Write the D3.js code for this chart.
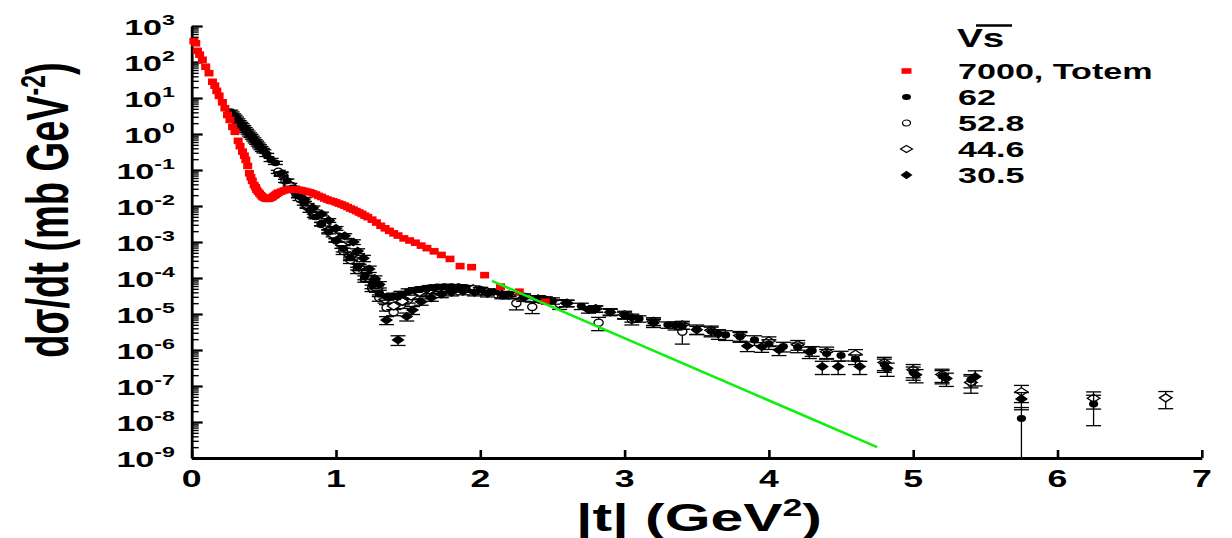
<!DOCTYPE html>
<html><head><meta charset="utf-8">
<script src="https://cdn.jsdelivr.net/npm/d3@7"></script>
<style>
html,body{margin:0;padding:0;background:#fff;}
svg{display:block;font-family:"Liberation Sans",Arial,Helvetica,sans-serif;font-weight:bold;}
</style>
</head><body>
<svg id="chart" width="1232" height="538"></svg>
<script>
// ---------- data ----------
const xTicks = [0, 1, 2, 3, 4, 5, 6, 7];
const yTickExps = [-9, -8, -7, -6, -5, -4, -3, -2, -1, 0, 1, 2, 3];
const legendTitle = "Vs";
const legendLabels = ["7000, Totem", "62", "52.8", "44.6", "30.5"];

// 7000 GeV TOTEM: [|t|, dsigma/dt]
const red7000 = [
  [0.015,380],[0.028,331],[0.04,204],[0.055,160],[0.074,115],[0.097,74.1],[0.12,49.0],[0.144,28.2],[0.16,22.0],
  [0.174,15.8],[0.19,11.5],[0.213,7.59],[0.23,5.2],[0.248,3.39],[0.265,2.45],[0.283,1.58],[0.30,1.15],
  [0.322,0.646],[0.335,0.46],[0.352,0.324],[0.365,0.25],[0.375,0.191],[0.388,0.13],[0.40,0.0813],[0.41,0.063],
  [0.42,0.0501],[0.433,0.0380],[0.443,0.0330],[0.45,0.0282],[0.46,0.0251],[0.47,0.0224],[0.48,0.0200],[0.49,0.0182],
  [0.50,0.0170],[0.51,0.0162],[0.52,0.0158],
  [0.53,0.0158],[0.54,0.0162],[0.55,0.0170],[0.56,0.0178],[0.57,0.0191],[0.58,0.0204],[0.59,0.0219],[0.60,0.0234],
  [0.62,0.0251],[0.64,0.0269],[0.66,0.0282],[0.68,0.0288],[0.70,0.0288],[0.72,0.0288],[0.74,0.0282],[0.76,0.0275],
  [0.78,0.0263],[0.80,0.0251],[0.82,0.0240],[0.84,0.0224],[0.86,0.0209],[0.88,0.0191],[0.90,0.0178],[0.92,0.0162],
  [0.94,0.0151],[0.96,0.0141],[0.98,0.0135],[1.00,0.0126],[1.02,0.0117],[1.04,0.0110],[1.06,0.0102],[1.08,0.00933],
  [1.10,0.00851],[1.12,0.00794],[1.14,0.00724],[1.16,0.00661],[1.18,0.00603],[1.20,0.00537],[1.22,0.00490],
  [1.25,0.00417],[1.28,0.00347],[1.31,0.00282],[1.34,0.00240],[1.37,0.00204],[1.40,0.00174],[1.43,0.00151],
  [1.47,0.00126],[1.51,0.00110],[1.55,0.000955],[1.59,0.000794],[1.63,0.000676],[1.68,0.000550],[1.73,0.000437],
  [1.79,0.000339],[1.86,0.000214],[1.94,0.000200],[2.03,0.000120],[2.14,5.75e-5],[2.27,4.17e-5],[2.45,2.19e-5]
];

// ISR data: [|t|, dsigma/dt, relative error]
const isr62 = [
  [0.27,4.17,0.1],[0.28,3.72,0.1],[0.29,3.31,0.1],[0.30,3.02,0.1],[0.31,2.69,0.1],[0.32,2.40,0.1],[0.33,2.14,0.1],
  [0.34,1.91,0.1],[0.35,1.74,0.1],[0.36,1.55,0.1],[0.37,1.38,0.1],[0.38,1.23,0.1],[0.39,1.10,0.1],[0.40,0.977,0.1],
  [0.41,0.891,0.1],[0.42,0.794,0.1],[0.43,0.708,0.1],[0.44,0.631,0.1],[0.45,0.575,0.1],[0.46,0.513,0.1],
  [0.47,0.457,0.1],[0.48,0.407,0.1],[0.49,0.363,0.1],[0.50,0.331,0.1],[0.52,0.263,0.1],[0.55,0.191,0.1],[0.58,0.158,0.1],
  [0.62,0.0794,0.12],[0.66,0.0501,0.12],[0.70,0.0316,0.12],[0.74,0.0191,0.12],[0.78,0.0120,0.12],[0.82,0.00759,0.12],
  [0.86,0.00501,0.12],[0.90,0.00316,0.12],[0.95,0.00191,0.12],[1.00,0.00112,0.12],
  [1.05,0.000661,0.2],[1.10,0.000380,0.2],[1.15,0.000209,0.2],[1.20,0.000112,0.2],[1.25,6.31e-5,0.2],[1.30,3.80e-5,0.2],
  [1.35,3.02e-5,0.2],[1.40,3.16e-5,0.2],[1.45,3.55e-5,0.2],[1.50,4.17e-5,0.2],
  [1.55,4.68e-5,0.15],[1.60,5.01e-5,0.15],[1.65,5.37e-5,0.15],[1.70,5.62e-5,0.15],[1.75,5.75e-5,0.15],[1.80,5.75e-5,0.15],
  [1.85,5.62e-5,0.15],[1.90,5.37e-5,0.15],[2.00,4.79e-5,0.15],[2.10,4.17e-5,0.15],[2.20,3.55e-5,0.15],[2.30,3.16e-5,0.15],
  [2.40,2.69e-5,0.2],[2.50,2.34e-5,0.2],[2.60,2.00e-5,0.2],[2.70,1.66e-5,0.2],[2.80,1.38e-5,0.2],[2.90,1.17e-5,0.2],
  [3.00,9.33e-6,0.2],[3.10,7.41e-6,0.2],[3.20,6.03e-6,0.2],[3.30,5.01e-6,0.2],[3.40,4.68e-6,0.2],
  [3.50,3.80e-6,0.3],[3.60,3.31e-6,0.3],[3.70,2.63e-6,0.3],[3.80,2.34e-6,0.3],[3.90,1.91e-6,0.3],[4.00,1.48e-6,0.3],
  [4.10,1.26e-6,0.3],[4.20,1.20e-6,0.3],[4.30,9.55e-7,0.3],[4.40,7.94e-7,0.3],[4.50,7.08e-7,0.3],[4.60,5.62e-7,0.3],
  [4.80,3.98e-7,0.4],[5.00,2.40e-7,0.4],[5.20,1.91e-7,0.4],[5.40,1.48e-7,0.4],[5.75,1.26e-8,1.0],[6.25,3.16e-8,0.75]
];
const isr528 = [
  [0.60,0.0891,0.1],[0.65,0.0501,0.1],[0.70,0.0282,0.1],[0.75,0.0158,0.1],[0.80,0.00955,0.1],[0.85,0.00537,0.1],
  [0.90,0.00316,0.1],[0.95,0.00200,0.1],[1.00,0.00112,0.1],[1.05,0.000562,0.2],[1.10,0.000316,0.2],[1.15,0.000166,0.2],
  [1.20,9.55e-5,0.2],[1.25,5.25e-5,0.2],[1.30,2.82e-5,0.2],[1.35,1.51e-5,0.2],[1.40,1.12e-5,0.2],[1.45,1.78e-5,0.2],
  [1.50,2.51e-5,0.2],[1.55,3.16e-5,0.2],[1.60,3.80e-5,0.2],[1.70,4.68e-5,0.2],[1.80,5.25e-5,0.2],[1.90,5.01e-5,0.2],
  [2.00,4.47e-5,0.2],[2.15,3.31e-5,0.2],[2.25,2.00e-5,0.35],[2.36,1.58e-5,0.35],[2.55,1.91e-5,0.3],
  [2.82,5.75e-6,0.4],[3.05,7.08e-6,0.3],[3.40,3.24e-6,0.55]
];
const isr446 = [
  [0.62,0.0759,0.12],[0.68,0.0380,0.12],[0.74,0.0200,0.12],[0.80,0.0105,0.12],[0.86,0.00562,0.12],[0.92,0.00302,0.12],
  [0.98,0.00158,0.12],[1.04,0.000832,0.2],[1.10,0.000417,0.2],[1.16,0.000200,0.2],[1.22,0.000100,0.2],[1.28,5.01e-5,0.2],
  [1.34,2.51e-5,0.2],[1.40,1.66e-5,0.2],[1.46,2.24e-5,0.2],[1.52,3.16e-5,0.2],[1.58,3.98e-5,0.2],[1.65,4.68e-5,0.2],
  [1.75,5.25e-5,0.2],[1.85,5.37e-5,0.2],[1.95,5.01e-5,0.2],[2.05,4.17e-5,0.2],[2.20,3.31e-5,0.2],[2.40,2.63e-5,0.2],
  [2.60,2.00e-5,0.2],[2.80,1.41e-5,0.2],[3.00,9.55e-6,0.25],[3.20,6.31e-6,0.25],[3.40,5.01e-6,0.25],[3.60,3.55e-6,0.3],
  [3.80,2.51e-6,0.3],[4.00,1.78e-6,0.3],[4.20,1.41e-6,0.3],[4.40,8.91e-7,0.35],[4.60,7.59e-7,0.35],[4.80,4.47e-7,0.4],
  [5.00,2.82e-7,0.4],[5.20,2.09e-7,0.4],[5.40,1.26e-7,0.5],[5.75,6.92e-8,0.5],[6.25,4.57e-8,0.5],[6.75,4.68e-8,0.5]
];
const isr305 = [
  [0.72,0.0282,0.12],[0.78,0.0151,0.12],[0.84,0.00891,0.12],[0.90,0.00603,0.12],[0.95,0.00398,0.12],[1.00,0.00240,0.12],
  [1.06,0.00148,0.15],[1.12,0.00100,0.15],[1.15,0.000562,0.15],[1.19,0.000355,0.2],[1.23,0.000178,0.2],[1.27,9.55e-5,0.2],
  [1.30,6.61e-5,0.2],[1.35,6.76e-6,0.25],[1.43,1.91e-6,0.3],[1.49,8.51e-6,0.25],[1.53,1.29e-5,0.25],[1.59,2.19e-5,0.2],
  [1.66,2.82e-5,0.2],[1.73,3.55e-5,0.2],[1.80,3.98e-5,0.2],[1.88,4.27e-5,0.2],[1.96,3.98e-5,0.2],[2.05,3.72e-5,0.2],
  [2.15,3.55e-5,0.2],[2.30,2.82e-5,0.2],[2.45,2.51e-5,0.2],[2.60,2.00e-5,0.2],[2.75,1.32e-5,0.2],[2.90,1.12e-5,0.2],
  [3.05,7.94e-6,0.25],[3.20,5.62e-6,0.25],[3.35,4.79e-6,0.25],[3.50,3.63e-6,0.25],[3.65,2.82e-6,0.3],[3.85,1.29e-6,0.3],
  [3.95,1.23e-6,0.3],[4.07,1.00e-6,0.3],[4.28,8.91e-7,0.35],[4.37,3.47e-7,0.4],[4.48,3.47e-7,0.4],[4.63,3.47e-7,0.4],
  [4.82,3.09e-7,0.4],[5.02,2.04e-7,0.4],[5.23,1.62e-7,0.4],[5.43,1.82e-7,0.45],[5.75,4.37e-8,0.5]
];
// green fitted line: [|t|, dsigma/dt]
const greenFit = [[2.08, 8.3e-5], [4.75, 2.0e-9]];

// ---------- drawing ----------
const SX = 1.55; // horizontal stretch of all lettering
const svg = d3.select("#chart");
const x = d3.scaleLinear().domain([0, 7]).range([191.7, 1201.8]);
const y = d3.scaleLog().domain([1e-9, 1e3]).range([458, 26]);

function stext(parent, px, py, anchor, size) {
  const g = parent.append("g").attr("transform", `translate(${px},${py}) scale(${SX},1)`);
  return g.append("text").attr("text-anchor", anchor).attr("font-size", size).attr("fill", "#000");
}

// y axis: minor ticks
const minor = [];
yTickExps.slice(0, -1).forEach(e => { for (let m = 2; m <= 9; m++) minor.push(m * Math.pow(10, e)); });
const gyMinor = svg.append("g").attr("transform", "translate(191.7,0)")
  .call(d3.axisLeft(y).tickValues(minor).tickSize(-7).tickSizeOuter(0).tickFormat(""));
gyMinor.select(".domain").remove();
gyMinor.selectAll(".tick line").attr("stroke", "#000").attr("stroke-width", 1.4);

const gy = svg.append("g").attr("transform", "translate(191.7,0)")
  .call(d3.axisLeft(y).tickValues(yTickExps.map(e => Math.pow(10, e))).tickSize(-11).tickSizeOuter(0).tickFormat(""));
gy.select(".domain").attr("stroke", "#000").attr("stroke-width", 2.8);
gy.selectAll(".tick line").attr("stroke", "#000").attr("stroke-width", 2.2);

const gx = svg.append("g").attr("transform", "translate(0,458)")
  .call(d3.axisBottom(x).tickValues(xTicks).tickSize(-8).tickSizeOuter(0).tickFormat(""));
gx.select(".domain").attr("stroke", "#000").attr("stroke-width", 2.8);
gx.selectAll(".tick line").attr("stroke", "#000").attr("stroke-width", 2.6);

// y tick labels
yTickExps.forEach(e => {
  const t = stext(svg, 175, y(Math.pow(10, e)) + 9, "end", 22);
  t.append("tspan").text("10");
  t.append("tspan").attr("font-size", 15).attr("dy", -10).text(String(e));
});
// x tick labels
xTicks.forEach(v => {
  stext(svg, x(v), 487, "middle", 23).text(String(v));
});

// axis titles
const xt = stext(svg, 699, 531, "middle", 38);
xt.append("tspan").text("|t| (GeV");
xt.append("tspan").attr("font-size", 23).attr("dy", -15).text("2");
xt.append("tspan").attr("dy", 15).text(")");

const ytg = svg.append("g").attr("transform", `translate(68,210) scale(${SX},1) rotate(-90)`);
const yt = ytg.append("text").attr("text-anchor", "middle").attr("font-size", 38);
yt.append("tspan").text("d\u03C3/dt (mb GeV");
yt.append("tspan").attr("font-size", 23).attr("dy", -15).text("-2");
yt.append("tspan").attr("dy", 15).text(")");

// markers
const symbols = {
  fc: g => g.append("ellipse").attr("rx", 4.6).attr("ry", 3.4).attr("fill", "#000"),
  oc: g => g.append("ellipse").attr("rx", 4.6).attr("ry", 3.6).attr("fill", "#fff").attr("stroke", "#000").attr("stroke-width", 1.3),
  od: g => g.append("path").attr("d", "M0,-4L6.3,0L0,4L-6.3,0Z").attr("fill", "#fff").attr("stroke", "#000").attr("stroke-width", 1.3),
  fd: g => g.append("path").attr("d", "M0,-4.6L6.6,0L0,4.6L-6.6,0Z").attr("fill", "#000")
};

function drawSeries(data, sym) {
  const g = svg.append("g");
  const eb = g.append("g").attr("stroke", "#000");
  data.forEach(([t, v, e]) => {
    const cx = x(t);
    const yHi = y(v * (1 + e));
    const yLo = y(Math.max(v * (1 - e), 1e-9));
    eb.append("line").attr("x1", cx).attr("x2", cx).attr("y1", yHi).attr("y2", yLo).attr("stroke-width", 1.3);
    eb.append("line").attr("x1", cx - 7.5).attr("x2", cx + 7.5).attr("y1", yHi).attr("y2", yHi).attr("stroke-width", 1.3);
    if (v * (1 - e) > 1e-9)
      eb.append("line").attr("x1", cx - 7.5).attr("x2", cx + 7.5).attr("y1", yLo).attr("y2", yLo).attr("stroke-width", 1.3);
  });
  data.forEach(([t, v]) => {
    symbols[sym](g.append("g").attr("transform", `translate(${x(t)},${y(v)})`));
  });
}
drawSeries(isr528, "oc");
drawSeries(isr446, "od");
drawSeries(isr62, "fc");
drawSeries(isr305, "fd");

// TOTEM red squares
svg.append("g").selectAll("rect").data(red7000).join("rect")
  .attr("x", d => x(d[0]) - 4.5).attr("y", d => y(d[1]) - 3.3)
  .attr("width", 9).attr("height", 6.6).attr("fill", "#ff0000");

// green line
svg.append("path").datum(greenFit)
  .attr("d", d3.line().x(d => x(d[0])).y(d => y(d[1])))
  .attr("fill", "none").attr("stroke", "#11ee11").attr("stroke-width", 2.6);

// legend
stext(svg, 957, 47, "start", 25).text(legendTitle);
svg.append("line").attr("x1", 976).attr("x2", 1012).attr("y1", 25.5).attr("y2", 25.5)
  .attr("stroke", "#000").attr("stroke-width", 2.6);
const legSyms = ["sq", "fc", "oc", "od", "fd"];
const rowY = [71, 97, 123, 149, 175];
legendLabels.forEach((lab, i) => {
  const g = svg.append("g").attr("transform", `translate(906.5,${rowY[i]})`);
  if (legSyms[i] === "sq") g.append("rect").attr("x", -5).attr("y", -2.8).attr("width", 10).attr("height", 5.6).attr("fill", "#ff0000");
  else if (legSyms[i] === "fc") g.append("ellipse").attr("rx", 4.5).attr("ry", 3).attr("fill", "#000");
  else if (legSyms[i] === "oc") g.append("ellipse").attr("rx", 4).attr("ry", 3).attr("fill", "#fff").attr("stroke", "#000").attr("stroke-width", 1.2);
  else if (legSyms[i] === "od") g.append("path").attr("d", "M0,-3.6L6,0L0,3.6L-6,0Z").attr("fill", "#fff").attr("stroke", "#000").attr("stroke-width", 1.2);
  else g.append("path").attr("d", "M0,-4.2L6,0L0,4.2L-6,0Z").attr("fill", "#000");
  stext(svg, 958, rowY[i] + 8, "start", 22).text(lab);
});
</script>
</body></html>
